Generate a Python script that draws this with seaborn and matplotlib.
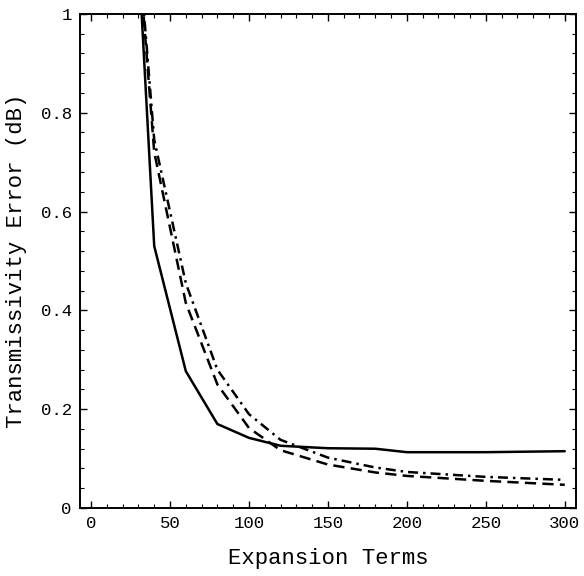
import matplotlib
matplotlib.use('Agg')
import matplotlib.pyplot as plt
import pandas as pd
import seaborn as sns
from matplotlib.ticker import MultipleLocator

# values
solid_terms = [30, 40, 60, 80, 100, 120, 150, 180, 200, 250, 300]
solid_err = [1.12, 0.53, 0.277, 0.17, 0.142, 0.126, 0.121, 0.12, 0.113, 0.113, 0.115]

dashed_terms = [30, 40, 60, 80, 100, 120, 150, 180, 200, 250, 300]
dashed_err = [1.13, 0.72, 0.415, 0.25, 0.162, 0.117, 0.088, 0.072, 0.065, 0.055, 0.047]

dashdot_terms = [30, 40, 60, 80, 100, 120, 150, 180, 200, 250, 300]
dashdot_err = [1.14, 0.745, 0.455, 0.28, 0.19, 0.138, 0.102, 0.082, 0.073, 0.063, 0.057]

x_ticks = [0, 50, 100, 150, 200, 250, 300]
y_ticks = [0, 0.2, 0.4, 0.6, 0.8, 1]
y_labels = ['0', '0.2', '0.4', '0.6', '0.8', '1']

df = pd.concat([
    pd.DataFrame({'terms': solid_terms, 'err': solid_err, 'case': 'solid'}),
    pd.DataFrame({'terms': dashed_terms, 'err': dashed_err, 'case': 'dashed'}),
    pd.DataFrame({'terms': dashdot_terms, 'err': dashdot_err, 'case': 'dashdot'}),
])

sns.set_style('ticks')
plt.rcParams['font.family'] = ['Liberation Mono', 'DejaVu Sans']

fig = plt.figure(figsize=(5.84, 5.76), dpi=100)
ax = fig.add_axes([0.137, 0.118, 0.849, 0.858])

sns.lineplot(data=df, x='terms', y='err', style='case',
             dashes={'solid': '', 'dashed': (4.5, 2.5), 'dashdot': (4, 2, 1, 2)},
             color='black', linewidth=1.8, legend=False, sort=False, ax=ax)

ax.set_xlim(-7, 307)
ax.set_ylim(0, 1)
ax.set_xticks(x_ticks)
ax.set_yticks(y_ticks)
ax.set_yticklabels(y_labels)
ax.xaxis.set_minor_locator(MultipleLocator(10))
ax.yaxis.set_minor_locator(MultipleLocator(0.04))
ax.tick_params(which='both', direction='in', top=True, right=True,
               color='black', labelsize=12.5, labelcolor='black')
ax.tick_params(which='major', length=5, width=1, pad=6)
ax.tick_params(which='minor', length=3, width=0.8)
for s in ax.spines.values():
    s.set_color('black')
    s.set_linewidth(1.4)

ax.set_xlabel('Expansion Terms', fontsize=16, labelpad=12, color='black')
ax.set_ylabel('Transmissivity Error (dB)', fontsize=16, labelpad=10, color='black')

fig.savefig('out.png', dpi=100)
